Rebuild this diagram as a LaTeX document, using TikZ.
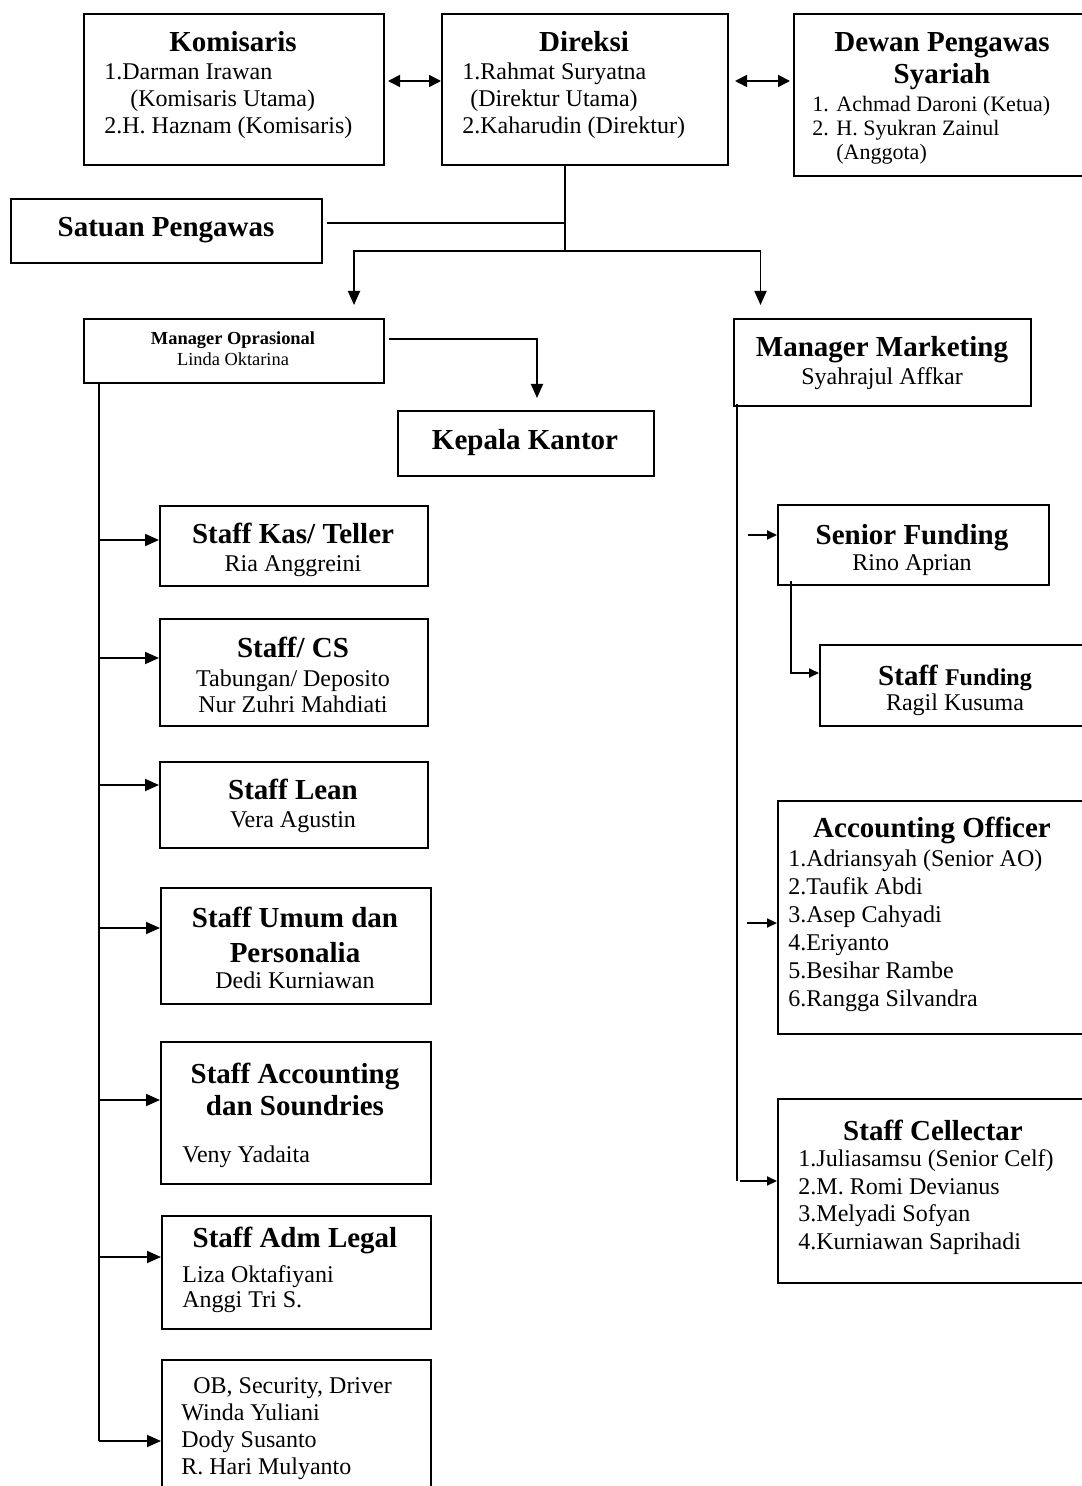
\documentclass[tikz,border=0pt]{standalone}
\usepackage{fontspec}
\setmainfont{Liberation Serif}
\usetikzlibrary{arrows.meta}
\newcommand{\orgLineW}{1pt}
\newcommand{\orgLinkW}{0.9pt}
\tikzset{
  orgbox/.style={draw, line width=\orgLineW, inner sep=0pt, anchor=north west},
  orgtitle/.style={font=\fontsize{14.5}{16}\selectfont\bfseries, inner sep=0pt,
    anchor=base, align=center},
  orgtext/.style={font=\fontsize{12}{13.7}\selectfont, inner sep=0pt,
    anchor=base west, align=left},
  orgname/.style={font=\fontsize{12}{13.7}\selectfont, inner sep=0pt,
    anchor=base, align=center},
  orglink/.style={line width=\orgLinkW},
  orgarrow/.style={orglink, -{Triangle[length=7pt,width=6pt]}},
  orgstub/.style={orglink, -{Triangle[length=5pt,width=4.5pt]}},
  orgboth/.style={orglink, {Triangle[length=6pt,width=6pt]}-{Triangle[length=6pt,width=6pt]}},
}
\begin{document}
\begin{tikzpicture}[x=0.5pt, y=-0.5pt, line cap=butt, line join=miter]
  \useasboundingbox (0,0) rectangle (1081,1486);
  % multi-line texts sit on the baseline of their last line

  % --- Top row: Komisaris, Direksi, Dewan Pengawas Syariah ---
  \node[orgbox, minimum width=150pt, minimum height=75.5pt] (kom) at (83,13) {};
  \node[orgtitle] (komT) at (233,52) {Komisaris};
  \node[orgtext] (komL) at (104,134)
    {1.Darman Irawan\\\hspace*{13pt}(Komisaris Utama)\\2.H. Haznam (Komisaris)};

  \node[orgbox, minimum width=143pt, minimum height=75.5pt] (dir) at (441,13) {};
  \node[orgtitle] (dirT) at (584,52) {Direksi};
  \node[orgtext] (dirL) at (462,134)
    {1.Rahmat Suryatna\\\hspace*{4pt}(Direktur Utama)\\2.Kaharudin (Direktur)};

  \node[orgbox, minimum width=150pt, minimum height=81pt] (dew) at (793,13) {};
  \node[orgtitle] (dewT) at (942,84) {Dewan Pengawas\\Syariah};
  \node[orgtext, font=\fontsize{11}{12}\selectfont] (dewL) at (812,160)
    {\makebox[12pt][l]{1.}Achmad Daroni (Ketua)\\
     \makebox[12pt][l]{2.}H. Syukran Zainul\\\hspace*{12pt}(Anggota)};

  \draw[orgboth, shorten <=1.5pt] ([yshift=4.25pt]kom.east) -- ([yshift=4.25pt]dir.west);
  \draw[orgboth, shorten <=3pt, shorten >=1.5pt]
    ([yshift=4.25pt]dir.east) -- ([yshift=4.25pt]dir.east -| dew.west);

  % --- Satuan Pengawas and the branch under Direksi ---
  \node[orgbox, minimum width=155.5pt, minimum height=32pt] (spi) at (10,198) {};
  \node[orgtitle] (spiT) at (166,237) {Satuan Pengawas};

  \coordinate (hub) at (565,251);
  \draw[orglink] (dir.south -| hub) -- (hub);
  \draw[orglink] ([xshift=2pt,yshift=4pt]spi.east) -- ([yshift=4pt]spi.east -| hub);

  % --- Managers ---
  \node[orgbox, minimum width=150pt, minimum height=32pt] (mo) at (83,318) {};
  \node[orgtitle, font=\fontsize{9.2}{10.5}\selectfont\bfseries] (moT) at (233,345)
    {Manager Oprasional};
  \node[orgname, font=\fontsize{9.2}{10.5}\selectfont] (moN) at (233,366) {Linda Oktarina};

  \node[orgbox, minimum width=148.5pt, minimum height=43.5pt] (mm) at (733,318) {};
  \node[orgtitle] (mmT) at (882,357) {Manager Marketing};
  \node[orgname] (mmN) at (882,385) {Syahrajul Affkar};

  \draw[orgarrow] (hub) -| ([xshift=60pt,yshift=6.5pt]mo.north);
  \draw[orgarrow] (hub) -| ([xshift=-61pt,yshift=6.5pt]mm.north);

  \node[orgbox, minimum width=128pt, minimum height=32.5pt] (kk) at (397,410) {};
  \node[orgtitle] (kkT) at (525,450) {Kepala Kantor};
  \draw[orgarrow] ([xshift=2pt,yshift=6pt]mo.east) -| ([xshift=5.5pt,yshift=6pt]kk.north);

  % --- Left column under Manager Oprasional ---
  \node[orgbox, minimum width=134pt, minimum height=40pt] (kas) at (159,505) {};
  \node[orgtitle] (kasT) at (293,543) {Staff Kas/ Teller};
  \node[orgname] (kasN) at (293,571) {Ria Anggreini};

  \node[orgbox, minimum width=134pt, minimum height=53.5pt] (cs) at (159,618) {};
  \node[orgtitle] (csT) at (293,657) {Staff/ CS};
  \node[orgname, font=\fontsize{12}{13}\selectfont] (csN) at (293,712)
    {Tabungan/ Deposito\\Nur Zuhri Mahdiati};

  \node[orgbox, minimum width=134pt, minimum height=43pt] (lean) at (159,761) {};
  \node[orgtitle] (leanT) at (293,799) {Staff Lean};
  \node[orgname] (leanN) at (293,827) {Vera Agustin};

  \node[orgbox, minimum width=135pt, minimum height=58pt] (umum) at (160,887) {};
  \node[orgtitle, font=\fontsize{14.5}{17.5}\selectfont\bfseries] (umumT) at (295,962)
    {Staff Umum dan\\Personalia};
  \node[orgname] (umumN) at (295,988) {Dedi Kurniawan};

  \node[orgbox, minimum width=135pt, minimum height=71pt] (acc) at (160,1041) {};
  \node[orgtitle] (accT) at (295,1115) {Staff Accounting\\dan Soundries};
  \node[orgtext] (accN) at (182,1162) {Veny Yadaita};

  \node[orgbox, minimum width=134.5pt, minimum height=56.5pt] (legal) at (161,1215) {};
  \node[orgtitle] (legalT) at (295,1247) {Staff Adm Legal};
  \node[orgtext, font=\fontsize{12}{12.5}\selectfont] (legalL) at (182,1307)
    {Liza Oktafiyani\\Anggi Tri S.};

  \node[orgbox, minimum width=134.5pt, minimum height=70.5pt] (ob) at (161,1359) {};
  \node[orgtext, font=\fontsize{12}{13.5}\selectfont] (obL) at (181,1474)
    {\hspace*{6pt}OB, Security, Driver\\Winda Yuliani\\Dody Susanto\\R. Hari Mulyanto};

  \coordinate (ltop) at ([xshift=-67.5pt]mo.south);
  \draw[orglink] (ltop) -- ([yshift=-5.25pt]ob.west -| ltop);
  \foreach \b/\dy in {kas/3, cs/7.25, lean/10, umum/9, acc/6.5, legal/7.75, ob/-5.25}
    \draw[orgarrow] ([yshift=\dy pt]\b.west -| ltop) -- ([yshift=\dy pt]\b.west);

  % --- Right column under Manager Marketing ---
  \node[orgbox, minimum width=135.5pt, minimum height=40pt] (sf) at (777,504) {};
  \node[orgtitle] (sfT) at (912,544) {Senior Funding};
  \node[orgname] (sfN) at (912,570) {Rino Aprian};

  \node[orgbox, minimum width=135.5pt, minimum height=40.5pt] (stf) at (819,644) {};
  \node[orgtitle] (stfT) at (955,685) {Staff {\fontsize{12}{14}\selectfont Funding}};
  \node[orgname] (stfN) at (955,710) {Ragil Kusuma};

  \node[orgbox, minimum width=156.5pt, minimum height=116.5pt] (ao) at (777,800) {};
  \node[orgtitle] (aoT) at (932,837) {Accounting Officer};
  \node[orgtext, font=\fontsize{12}{14}\selectfont] (aoL) at (788,1006)
    {1.Adriansyah (Senior AO)\\2.Taufik Abdi\\3.Asep Cahyadi\\4.Eriyanto\\
     5.Besihar Rambe\\6.Rangga Silvandra};

  \node[orgbox, minimum width=156.5pt, minimum height=92pt] (cel) at (777,1098) {};
  \node[orgtitle] (celT) at (933,1140) {Staff Cellectar};
  \node[orgtext] (celL) at (798,1249)
    {1.Juliasamsu (Senior Celf)\\2.M. Romi Devianus\\3.Melyadi Sofyan\\4.Kurniawan Saprihadi};

  \coordinate (rtop) at ([xshift=-72.75pt,yshift=1.5pt]mm.south);
  \draw[orglink] (rtop) -- ([yshift=5pt]cel.west -| rtop);
  \draw[orgstub] ([xshift=5.5pt,yshift=5pt]sf.west -| rtop) -- ([yshift=5pt]sf.west);
  \draw[orgstub] ([xshift=5pt,yshift=-2.75pt]ao.west -| rtop) -- ([yshift=-2.75pt]ao.west);
  \draw[orgstub] ([xshift=1.5pt,yshift=5pt]cel.west -| rtop) -- ([yshift=5pt]cel.west);
  \draw[orgstub] ([xshift=-61.25pt,yshift=2.5pt]sf.south) |- ([yshift=6.25pt]stf.west);
\end{tikzpicture}
\end{document}
